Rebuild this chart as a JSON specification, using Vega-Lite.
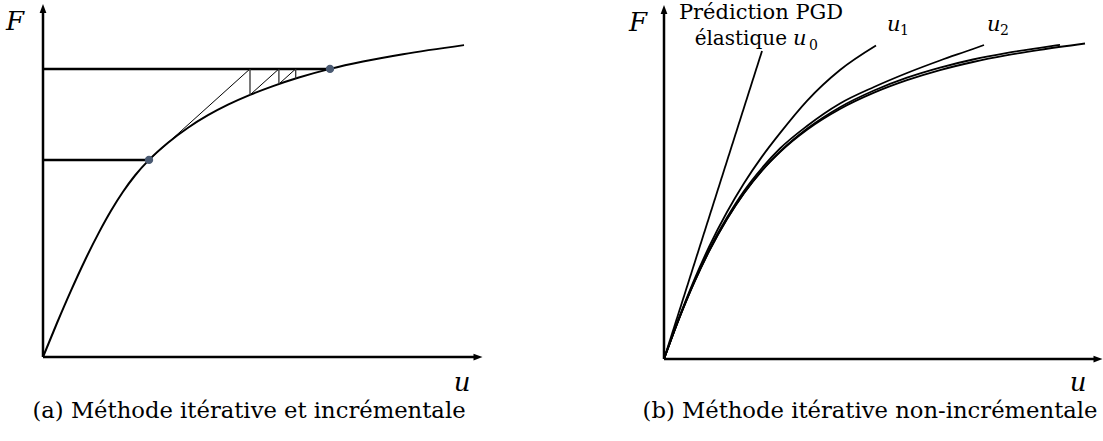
{
  "$schema": "https://vega.github.io/schema/vega-lite/v6.json",
  "background": "white",
  "padding": 0,
  "spacing": 0,
  "config": {"view": {"stroke": null}},
  "datasets": {
    "curveA": [
      {"u": 0, "F": 0}, {"u": 14, "F": 34.0}, {"u": 28, "F": 66.4}, {"u": 42, "F": 96.8}, {"u": 56, "F": 124.6},
      {"u": 68, "F": 146.2}, {"u": 80, "F": 165.2}, {"u": 92, "F": 181.5}, {"u": 106, "F": 197.1}, {"u": 125, "F": 214.3},
      {"u": 145, "F": 229.3}, {"u": 165, "F": 241.8}, {"u": 185, "F": 252.3}, {"u": 207, "F": 262.1}, {"u": 230, "F": 270.9},
      {"u": 255, "F": 279.2}, {"u": 287, "F": 288.1}, {"u": 320, "F": 295.5}, {"u": 360, "F": 302.8}, {"u": 421, "F": 311.9}
    ],
    "thickA": [
      {"u": 0, "F": 0, "u2": 0, "F2": 346},
      {"u": 0, "F": 0, "u2": 433, "F2": 0},
      {"u": 0, "F": 288.1, "u2": 287, "F2": 288.1},
      {"u": 0, "F": 197.1, "u2": 106, "F2": 197.1}
    ],
    "thinA": [
      {"u": 106, "F": 197.1, "u2": 207, "F2": 288.1},
      {"u": 207, "F": 262.1, "u2": 235.9, "F2": 288.1},
      {"u": 235.9, "F": 273.0, "u2": 252.7, "F2": 288.1}
    ],
    "vertA": [
      {"u": 207, "F": 288.1, "u2": 207, "F2": 262.1},
      {"u": 235.9, "F": 288.1, "u2": 235.9, "F2": 273.0},
      {"u": 252.7, "F": 288.1, "u2": 252.7, "F2": 278.5}
    ],
    "dotsA": [{"u": 106, "F": 197.1}, {"u": 287, "F": 288.1}],
    "curvesB": [
      {"s": "u", "u": 0, "F": 0}, {"s": "u", "u": 15, "F": 40.1}, {"s": "u", "u": 30, "F": 76.1}, {"s": "u", "u": 45, "F": 107.6},
      {"s": "u", "u": 63, "F": 140.0}, {"s": "u", "u": 80, "F": 165.8}, {"s": "u", "u": 98, "F": 188.4}, {"s": "u", "u": 116, "F": 206.9},
      {"s": "u", "u": 143, "F": 229.2}, {"s": "u", "u": 176, "F": 250.0}, {"s": "u", "u": 210, "F": 266.3}, {"s": "u", "u": 243, "F": 278.8},
      {"s": "u", "u": 276, "F": 288.9}, {"s": "u", "u": 309, "F": 297.0}, {"s": "u", "u": 342, "F": 303.6}, {"s": "u", "u": 376, "F": 309.2},
      {"s": "u", "u": 421, "F": 315.5},
      {"s": "u3", "u": 0, "F": 0}, {"s": "u3", "u": 15, "F": 40.1}, {"s": "u3", "u": 30, "F": 76.1}, {"s": "u3", "u": 45, "F": 107.6},
      {"s": "u3", "u": 63, "F": 140.0}, {"s": "u3", "u": 80, "F": 165.8}, {"s": "u3", "u": 98, "F": 188.6}, {"s": "u3", "u": 116, "F": 207.4},
      {"s": "u3", "u": 143, "F": 230.2}, {"s": "u3", "u": 176, "F": 251.8}, {"s": "u3", "u": 210, "F": 268.5}, {"s": "u3", "u": 243, "F": 281.3},
      {"s": "u3", "u": 276, "F": 291.4}, {"s": "u3", "u": 309, "F": 299.5}, {"s": "u3", "u": 342, "F": 305.9}, {"s": "u3", "u": 376, "F": 311.2},
      {"s": "u3", "u": 396, "F": 314.2},
      {"s": "u2", "u": 0, "F": 0}, {"s": "u2", "u": 15, "F": 40.5}, {"s": "u2", "u": 30, "F": 77.0}, {"s": "u2", "u": 45, "F": 109.0},
      {"s": "u2", "u": 63, "F": 141.5}, {"s": "u2", "u": 80, "F": 168.0}, {"s": "u2", "u": 98, "F": 191.0}, {"s": "u2", "u": 116, "F": 210.5},
      {"s": "u2", "u": 143, "F": 233.0}, {"s": "u2", "u": 176, "F": 255.5}, {"s": "u2", "u": 210, "F": 272.0}, {"s": "u2", "u": 243, "F": 286.0},
      {"s": "u2", "u": 276, "F": 298.5}, {"s": "u2", "u": 309, "F": 310.0}, {"s": "u2", "u": 320, "F": 314.0},
      {"s": "u1", "u": 0, "F": 0}, {"s": "u1", "u": 15, "F": 41.1}, {"s": "u1", "u": 30, "F": 78.6}, {"s": "u1", "u": 45, "F": 112.1},
      {"s": "u1", "u": 63, "F": 147.0}, {"s": "u1", "u": 80, "F": 175.8}, {"s": "u1", "u": 98, "F": 202.4}, {"s": "u1", "u": 116, "F": 225.9},
      {"s": "u1", "u": 143, "F": 258.2}, {"s": "u1", "u": 176, "F": 289.0}, {"s": "u1", "u": 212, "F": 313.5},
      {"s": "u0", "u": 0, "F": 0}, {"s": "u0", "u": 98, "F": 308}
    ],
    "thickB": [
      {"u": 0, "F": 0, "u2": 0, "F2": 345},
      {"u": 0, "F": 0, "u2": 431, "F2": 0}
    ]
  },
  "hconcat": [
    {
      "width": 552,
      "height": 441,
      "encoding": {
        "x": {"field": "u", "type": "quantitative", "scale": {"domain": [-43, 509], "nice": false, "zero": false}, "axis": null},
        "y": {"field": "F", "type": "quantitative", "scale": {"domain": [-84, 357], "nice": false, "zero": false}, "axis": null}
      },
      "layer": [
        {
          "data": {"name": "curveA"},
          "mark": {"type": "line", "color": "black", "strokeWidth": 2, "interpolate": "monotone"}
        },
        {
          "data": {"name": "thickA"},
          "mark": {"type": "rule", "color": "black", "strokeWidth": 2.5},
          "encoding": {"x2": {"field": "u2"}, "y2": {"field": "F2"}}
        },
        {
          "data": {"name": "thinA"},
          "mark": {"type": "rule", "color": "black", "strokeWidth": 1},
          "encoding": {"x2": {"field": "u2"}, "y2": {"field": "F2"}}
        },
        {
          "data": {"name": "vertA"},
          "mark": {"type": "rule", "color": "#333333", "strokeWidth": 1.3},
          "encoding": {"x2": {"field": "u2"}, "y2": {"field": "F2"}}
        },
        {
          "data": {"name": "dotsA"},
          "mark": {"type": "point", "shape": "circle", "filled": true, "color": "#4a5a72", "size": 70, "opacity": 1}
        },
        {
          "data": {"values": [{"u": 0, "F": 348.5}]},
          "mark": {"type": "point", "shape": "M0,-1L0.75,1L-0.75,1Z", "filled": true, "color": "black", "size": 81, "opacity": 1}
        },
        {
          "data": {"values": [{"u": 435, "F": 0}]},
          "mark": {"type": "point", "shape": "M1,0L-1,0.75L-1,-0.75Z", "filled": true, "color": "black", "size": 81, "opacity": 1}
        },
        {
          "data": {"values": [{"u": -28, "F": 335, "t": "F"}, {"u": 419, "F": -26, "t": "u"}]},
          "mark": {"type": "text", "font": "DejaVu Serif", "fontStyle": "italic", "fontSize": 26, "align": "center", "baseline": "middle", "color": "black"},
          "encoding": {"text": {"field": "t"}}
        },
        {
          "data": {"values": [{"u": 206, "F": -61, "t": "(a) Méthode itérative et incrémentale"}]},
          "mark": {"type": "text", "font": "DejaVu Serif", "fontSize": 22.7, "align": "center", "baseline": "alphabetic", "color": "black"},
          "encoding": {"text": {"field": "t"}}
        }
      ]
    },
    {
      "width": 551,
      "height": 441,
      "encoding": {
        "x": {"field": "u", "type": "quantitative", "scale": {"domain": [-112, 439], "nice": false, "zero": false}, "axis": null},
        "y": {"field": "F", "type": "quantitative", "scale": {"domain": [-82, 359], "nice": false, "zero": false}, "axis": null}
      },
      "layer": [
        {
          "data": {"name": "curvesB"},
          "mark": {"type": "line", "color": "black", "strokeWidth": 1.8, "interpolate": "monotone"},
          "encoding": {"detail": {"field": "s"}}
        },
        {
          "data": {"name": "thickB"},
          "mark": {"type": "rule", "color": "black", "strokeWidth": 2.5},
          "encoding": {"x2": {"field": "u2"}, "y2": {"field": "F2"}}
        },
        {
          "data": {"values": [{"u": 0, "F": 349.5}]},
          "mark": {"type": "point", "shape": "M0,-1L0.75,1L-0.75,1Z", "filled": true, "color": "black", "size": 81, "opacity": 1}
        },
        {
          "data": {"values": [{"u": 434, "F": 0}]},
          "mark": {"type": "point", "shape": "M1,0L-1,0.75L-1,-0.75Z", "filled": true, "color": "black", "size": 81, "opacity": 1}
        },
        {
          "data": {"values": [{"u": -26, "F": 336, "t": "F"}, {"u": 414, "F": -24, "t": "u"}]},
          "mark": {"type": "text", "font": "DejaVu Serif", "fontStyle": "italic", "fontSize": 26, "align": "center", "baseline": "middle", "color": "black"},
          "encoding": {"text": {"field": "t"}}
        },
        {
          "data": {"values": [{"u": 97, "F": 340, "t": "Prédiction PGD"}]},
          "mark": {"type": "text", "font": "DejaVu Serif", "fontSize": 21, "align": "center", "baseline": "alphabetic", "color": "black"},
          "encoding": {"text": {"field": "t"}}
        },
        {
          "data": {"values": [{"u": 123, "F": 314, "t": "élastique"}]},
          "mark": {"type": "text", "font": "DejaVu Serif", "fontSize": 20, "align": "right", "baseline": "alphabetic", "color": "black"},
          "encoding": {"text": {"field": "t"}}
        },
        {
          "data": {"values": [{"u": 129, "F": 314, "t": "u"}, {"u": 223, "F": 328, "t": "u"}, {"u": 323, "F": 328, "t": "u"}]},
          "mark": {"type": "text", "font": "DejaVu Serif", "fontStyle": "italic", "fontSize": 21, "align": "left", "baseline": "alphabetic", "color": "black"},
          "encoding": {"text": {"field": "t"}}
        },
        {
          "data": {"values": [{"u": 145, "F": 309, "t": "0"}, {"u": 236, "F": 324, "t": "1"}, {"u": 336, "F": 324, "t": "2"}]},
          "mark": {"type": "text", "font": "DejaVu Serif", "fontSize": 14, "align": "left", "baseline": "alphabetic", "color": "black"},
          "encoding": {"text": {"field": "t"}}
        },
        {
          "data": {"values": [{"u": 206, "F": -59, "t": "(b) Méthode itérative non-incrémentale"}]},
          "mark": {"type": "text", "font": "DejaVu Serif", "fontSize": 22.7, "align": "center", "baseline": "alphabetic", "color": "black"},
          "encoding": {"text": {"field": "t"}}
        }
      ]
    }
  ]
}
